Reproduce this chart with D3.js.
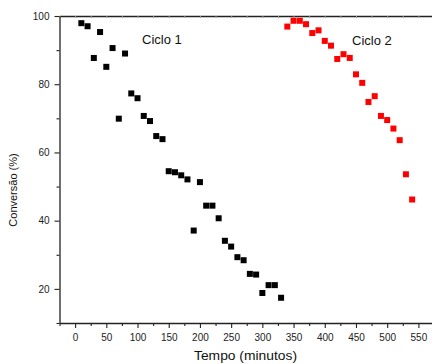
<!DOCTYPE html>
<html>
<head>
<meta charset="utf-8">
<script src="https://cdn.jsdelivr.net/npm/d3@7"></script>
<style>
  html, body { margin: 0; padding: 0; background: #fff; }
  svg { display: block; font-family: "Liberation Sans", Arial, sans-serif; }
</style>
</head>
<body>
<svg id="chart" width="432" height="364"></svg>
<script>
// Ciclo 1 (black)
const tempo1 = [10, 20, 30, 40, 50, 60, 70, 80, 90, 100, 110, 120, 130, 140, 150, 160, 170, 180,
                190, 200, 210, 220, 230, 240, 250, 260, 270, 280, 290, 300, 310, 320, 330];
const conv1 = [97.9, 97.0, 87.7, 95.3, 85.1, 90.6, 69.9, 89.0, 77.3, 75.9, 70.7, 69.2, 64.8, 63.9,
               54.5, 54.2, 53.3, 52.1, 37.1, 51.3, 44.4, 44.4, 40.7, 34.1, 32.4, 29.3, 28.4, 24.4,
               24.2, 18.8, 21.1, 21.1, 17.4];

// Ciclo 2 (red)
const tempo2 = [340, 350, 360, 370, 380, 390, 400, 410, 420, 430, 440, 450, 460, 470, 480, 490,
                500, 510, 520, 530, 540];
const conv2 = [96.9, 98.6, 98.6, 97.6, 95.0, 95.8, 92.7, 91.3, 87.4, 88.8, 87.7, 82.9, 80.4, 74.8,
               76.5, 70.7, 69.5, 67.0, 63.6, 53.6, 46.2];

const xTicks = [0, 50, 100, 150, 200, 250, 300, 350, 400, 450, 500, 550];
const xMinor = [-25, 25, 75, 125, 175, 225, 275, 325, 375, 425, 475, 525, 575];
const yTicks = [20, 40, 60, 80, 100];
const yMinor = [10, 30, 50, 70, 90];

const svg = d3.select("#chart");

const x = d3.scaleLinear().domain([-25, 575]).range([59.5, 434]);
const y = d3.scaleLinear().domain([10, 100]).range([323, 16]);

const axisColor = "#222";

// minor ticks first
svg.append("g")
    .attr("transform", `translate(0,${y(10)})`)
    .call(d3.axisBottom(x).tickValues(xMinor).tickSize(3).tickSizeOuter(0).tickFormat(""))
    .call(g => g.select(".domain").remove());

svg.append("g")
    .attr("transform", `translate(${x(-25)},0)`)
    .call(d3.axisLeft(y).tickValues(yMinor).tickSize(3).tickSizeOuter(0).tickFormat(""))
    .call(g => g.select(".domain").remove());

// top frame with small inward ticks
svg.append("g")
    .attr("transform", `translate(0,${y(100)})`)
    .call(d3.axisTop(x).tickValues(xMinor.concat(xTicks)).tickSize(-2).tickSizeOuter(0).tickFormat(""))
    .call(g => g.selectAll(".tick line").attr("stroke", "#999"));

const xAxis = svg.append("g")
    .attr("transform", `translate(0,${y(10)})`)
    .call(d3.axisBottom(x).tickValues(xTicks).tickSize(5).tickSizeOuter(0).tickPadding(6));

const yAxis = svg.append("g")
    .attr("transform", `translate(${x(-25)},0)`)
    .call(d3.axisLeft(y).tickValues(yTicks).tickSize(5).tickSizeOuter(0).tickPadding(5));

svg.selectAll(".domain").attr("stroke", axisColor).attr("stroke-width", 1.3);
svg.selectAll(".tick line").filter(function () { return d3.select(this).attr("stroke") !== "#999"; })
    .attr("stroke", axisColor).attr("stroke-width", 1.1);
svg.selectAll(".tick text")
    .attr("fill", "#222")
    .style("font-size", "10px")
    .style("font-family", "'Liberation Sans', Arial, sans-serif");

// points
const size = 6;
svg.append("g").selectAll("rect")
    .data(d3.zip(tempo1, conv1))
    .join("rect")
        .attr("x", d => x(d[0]) - size / 2)
        .attr("y", d => y(d[1]) - size / 2)
        .attr("width", size)
        .attr("height", size)
        .attr("fill", "#000");

svg.append("g").selectAll("rect")
    .data(d3.zip(tempo2, conv2))
    .join("rect")
        .attr("x", d => x(d[0]) - size / 2)
        .attr("y", d => y(d[1]) - size / 2)
        .attr("width", size)
        .attr("height", size)
        .attr("fill", "#ff0000");

// labels
svg.append("text")
    .attr("x", 142).attr("y", 44)
    .attr("font-size", "13px").attr("fill", "#111")
    .text("Ciclo 1");

svg.append("text")
    .attr("x", 352).attr("y", 45)
    .attr("font-size", "13px").attr("fill", "#111")
    .text("Ciclo 2");

svg.append("text")
    .attr("x", 194).attr("y", 360)
    .attr("font-size", "12px").attr("fill", "#111")
    .attr("textLength", 103).attr("lengthAdjust", "spacingAndGlyphs")
    .text("Tempo (minutos)");

svg.append("text")
    .attr("transform", "translate(17,190) rotate(-90)")
    .attr("text-anchor", "middle")
    .attr("font-size", "11px").attr("fill", "#111")
    .text("Conversão (%)");
</script>
</body>
</html>
